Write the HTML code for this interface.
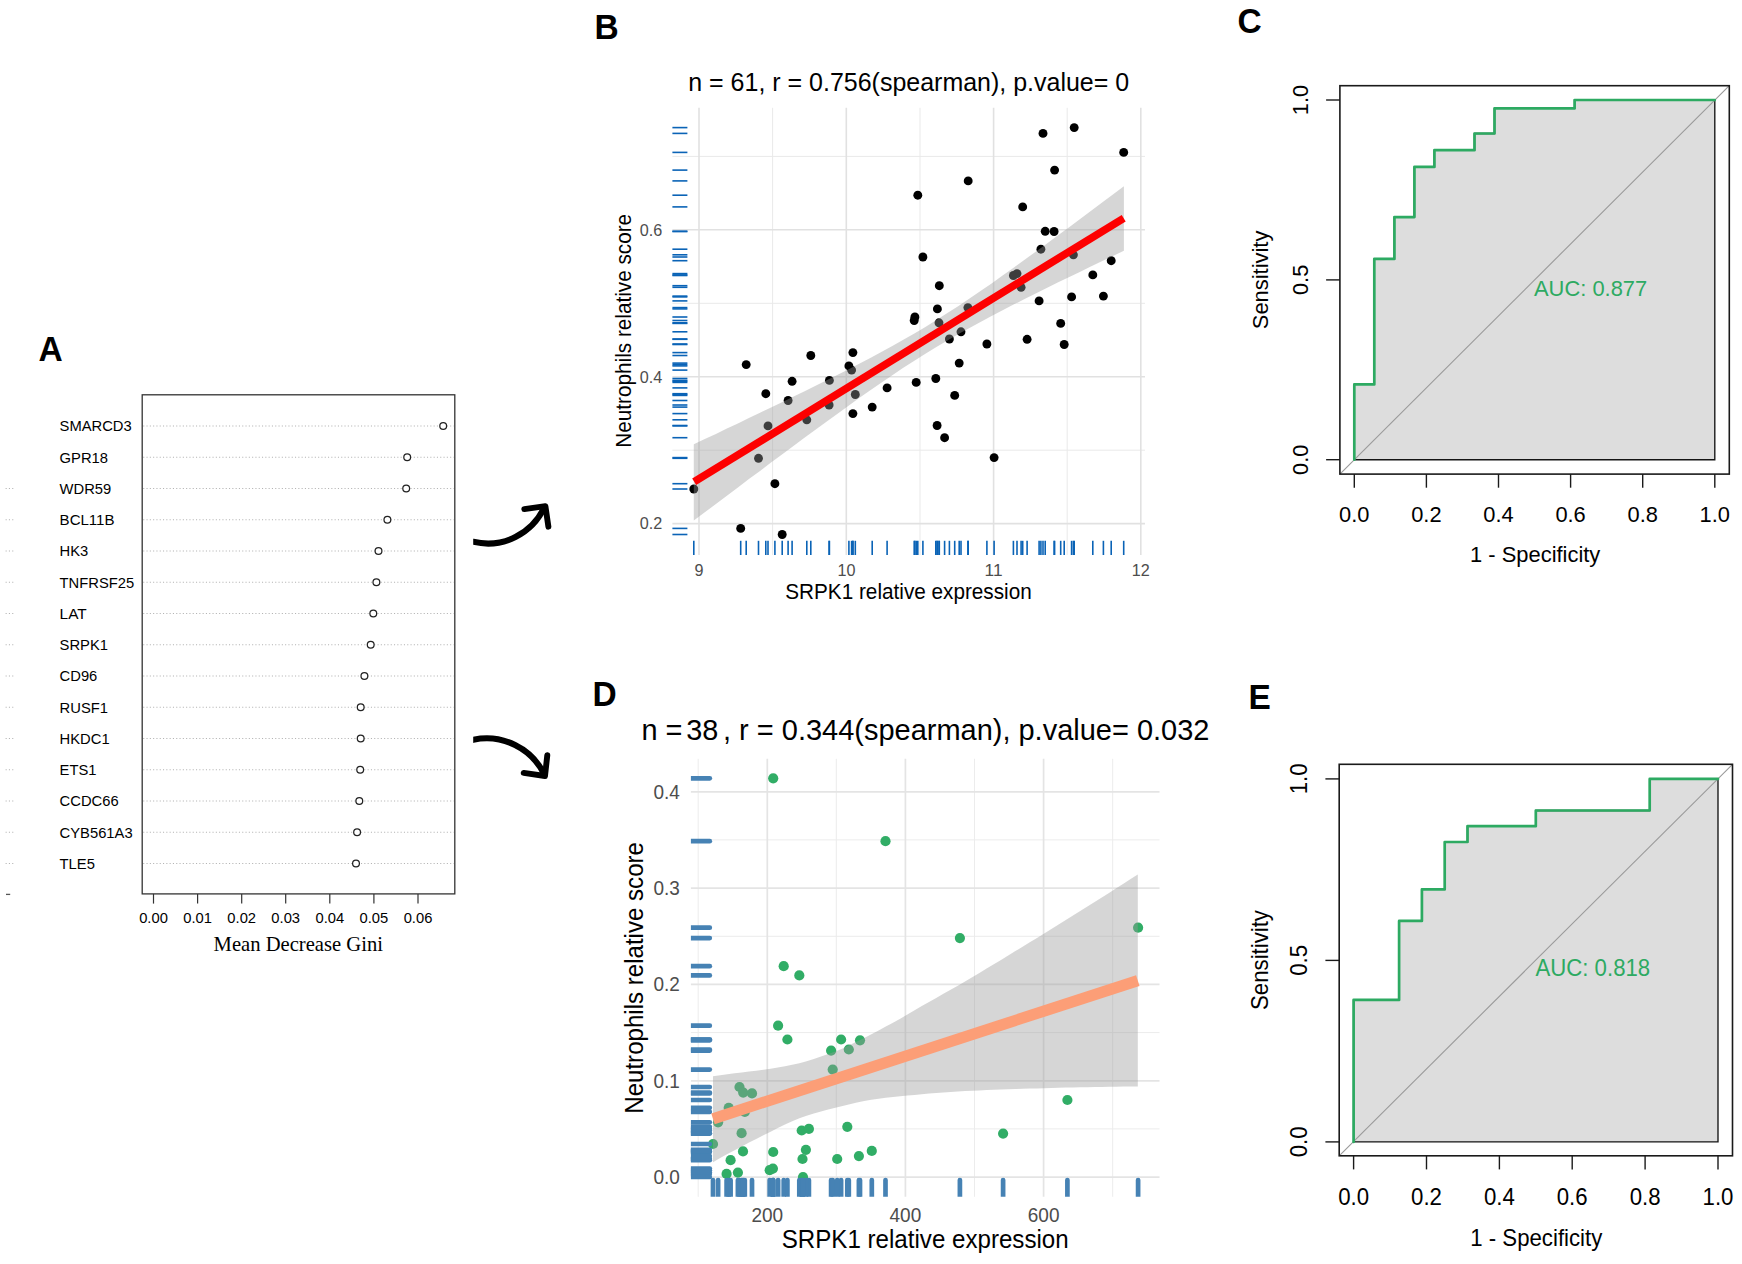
<!DOCTYPE html>
<html lang="en"><head><meta charset="utf-8"><title>Figure</title>
<style>html,body{margin:0;padding:0;background:#fff}svg{display:block}</style></head>
<body>
<svg width="1742" height="1264" viewBox="0 0 1742 1264" font-family="Liberation Sans, Arial, Helvetica, sans-serif">
<rect width="1742" height="1264" fill="#fff"/>
<g id="panelA">
<g stroke="#b4b4b4" stroke-width="1.1" stroke-dasharray="1.1 2.2" fill="none">
<path d="M143.2 426H453.8"/>
<path d="M143.2 457.2H453.8"/>
<path d="M143.2 488.5H453.8"/>
<path d="M5.6 488.5H13.3"/>
<path d="M143.2 519.8H453.8"/>
<path d="M5.6 519.8H13.3"/>
<path d="M143.2 551H453.8"/>
<path d="M5.6 551H13.3"/>
<path d="M143.2 582.2H453.8"/>
<path d="M5.6 582.2H13.3"/>
<path d="M143.2 613.5H453.8"/>
<path d="M5.6 613.5H13.3"/>
<path d="M143.2 644.8H453.8"/>
<path d="M5.6 644.8H13.3"/>
<path d="M143.2 676H453.8"/>
<path d="M5.6 676H13.3"/>
<path d="M143.2 707.2H453.8"/>
<path d="M5.6 707.2H13.3"/>
<path d="M143.2 738.5H453.8"/>
<path d="M5.6 738.5H13.3"/>
<path d="M143.2 769.8H453.8"/>
<path d="M5.6 769.8H13.3"/>
<path d="M143.2 801H453.8"/>
<path d="M5.6 801H13.3"/>
<path d="M143.2 832.2H453.8"/>
<path d="M5.6 832.2H13.3"/>
<path d="M143.2 863.5H453.8"/>
<path d="M5.6 863.5H13.3"/>
</g>
<rect x="142.2" y="394.8" width="312.6" height="499.1" fill="none" stroke="#333" stroke-width="1.3"/>
<path d="M6 894.4H10.2" stroke="#555" stroke-width="1.3"/>
<g fill="#fff" stroke="#222" stroke-width="1.25">
<circle cx="443.2" cy="426" r="3.4"/>
<circle cx="407.2" cy="457.2" r="3.4"/>
<circle cx="406.2" cy="488.5" r="3.4"/>
<circle cx="387.4" cy="519.8" r="3.4"/>
<circle cx="378.5" cy="551" r="3.4"/>
<circle cx="376.4" cy="582.2" r="3.4"/>
<circle cx="373.3" cy="613.5" r="3.4"/>
<circle cx="370.7" cy="644.8" r="3.4"/>
<circle cx="364.4" cy="676" r="3.4"/>
<circle cx="360.7" cy="707.2" r="3.4"/>
<circle cx="360.7" cy="738.5" r="3.4"/>
<circle cx="360.2" cy="769.8" r="3.4"/>
<circle cx="359.3" cy="801" r="3.4"/>
<circle cx="357.1" cy="832.2" r="3.4"/>
<circle cx="356.0" cy="863.5" r="3.4"/>
</g>
<text x="59.6" y="431.2" font-size="15.34" text-anchor="start" fill="#000" textLength="72.1" lengthAdjust="spacingAndGlyphs" xml:space="preserve">SMARCD3</text>
<text x="59.6" y="462.5" font-size="15.34" text-anchor="start" fill="#000" textLength="48.4" lengthAdjust="spacingAndGlyphs" xml:space="preserve">GPR18</text>
<text x="59.6" y="493.8" font-size="15.34" text-anchor="start" fill="#000" textLength="51.6" lengthAdjust="spacingAndGlyphs" xml:space="preserve">WDR59</text>
<text x="59.6" y="525" font-size="15.34" text-anchor="start" fill="#000" textLength="54.9" lengthAdjust="spacingAndGlyphs" xml:space="preserve">BCL11B</text>
<text x="59.6" y="556.2" font-size="15.34" text-anchor="start" fill="#000" textLength="28.7" lengthAdjust="spacingAndGlyphs" xml:space="preserve">HK3</text>
<text x="59.6" y="587.5" font-size="15.34" text-anchor="start" fill="#000" textLength="74.6" lengthAdjust="spacingAndGlyphs" xml:space="preserve">TNFRSF25</text>
<text x="59.6" y="618.8" font-size="15.34" text-anchor="start" fill="#000" textLength="27.1" lengthAdjust="spacingAndGlyphs" xml:space="preserve">LAT</text>
<text x="59.6" y="650" font-size="15.34" text-anchor="start" fill="#000" textLength="48.4" lengthAdjust="spacingAndGlyphs" xml:space="preserve">SRPK1</text>
<text x="59.6" y="681.2" font-size="15.34" text-anchor="start" fill="#000" textLength="37.7" lengthAdjust="spacingAndGlyphs" xml:space="preserve">CD96</text>
<text x="59.6" y="712.5" font-size="15.34" text-anchor="start" fill="#000" textLength="48.4" lengthAdjust="spacingAndGlyphs" xml:space="preserve">RUSF1</text>
<text x="59.6" y="743.8" font-size="15.34" text-anchor="start" fill="#000" textLength="50.0" lengthAdjust="spacingAndGlyphs" xml:space="preserve">HKDC1</text>
<text x="59.6" y="775" font-size="15.34" text-anchor="start" fill="#000" textLength="36.9" lengthAdjust="spacingAndGlyphs" xml:space="preserve">ETS1</text>
<text x="59.6" y="806.2" font-size="15.34" text-anchor="start" fill="#000" textLength="59.0" lengthAdjust="spacingAndGlyphs" xml:space="preserve">CCDC66</text>
<text x="59.6" y="837.5" font-size="15.34" text-anchor="start" fill="#000" textLength="73.0" lengthAdjust="spacingAndGlyphs" xml:space="preserve">CYB561A3</text>
<text x="59.6" y="868.8" font-size="15.34" text-anchor="start" fill="#000" textLength="35.3" lengthAdjust="spacingAndGlyphs" xml:space="preserve">TLE5</text>
<g stroke="#333" stroke-width="1.2">
<path d="M153.5 893.9V903.6"/>
<path d="M197.6 893.9V903.6"/>
<path d="M241.7 893.9V903.6"/>
<path d="M285.7 893.9V903.6"/>
<path d="M329.8 893.9V903.6"/>
<path d="M373.9 893.9V903.6"/>
<path d="M418 893.9V903.6"/>
</g>
<text x="153.5" y="923.4" font-size="15.34" text-anchor="middle" fill="#000" textLength="28.7" lengthAdjust="spacingAndGlyphs" xml:space="preserve">0.00</text>
<text x="197.6" y="923.4" font-size="15.34" text-anchor="middle" fill="#000" textLength="28.7" lengthAdjust="spacingAndGlyphs" xml:space="preserve">0.01</text>
<text x="241.7" y="923.4" font-size="15.34" text-anchor="middle" fill="#000" textLength="28.7" lengthAdjust="spacingAndGlyphs" xml:space="preserve">0.02</text>
<text x="285.7" y="923.4" font-size="15.34" text-anchor="middle" fill="#000" textLength="28.7" lengthAdjust="spacingAndGlyphs" xml:space="preserve">0.03</text>
<text x="329.8" y="923.4" font-size="15.34" text-anchor="middle" fill="#000" textLength="28.7" lengthAdjust="spacingAndGlyphs" xml:space="preserve">0.04</text>
<text x="373.9" y="923.4" font-size="15.34" text-anchor="middle" fill="#000" textLength="28.7" lengthAdjust="spacingAndGlyphs" xml:space="preserve">0.05</text>
<text x="418" y="923.4" font-size="15.34" text-anchor="middle" fill="#000" textLength="28.7" lengthAdjust="spacingAndGlyphs" xml:space="preserve">0.06</text>
<text x="298.3" y="950.8" font-family="Liberation Serif, Times New Roman, serif" font-size="20.6" text-anchor="middle" fill="#000" textLength="169.4" lengthAdjust="spacingAndGlyphs">Mean Decrease Gini</text>
</g>
<g id="arrows" fill="none" stroke="#000" stroke-width="6" stroke-linejoin="round">
<clipPath id="cpArr"><rect x="473.2" y="480" width="90" height="320"/></clipPath>
<g clip-path="url(#cpArr)">
<path d="M470 541.1L473.2 541.8C503 548.9 532.1 533.8 544.8 506.5"/>
<path d="M470 740.5L473.2 739.8C502.5 733.7 531.7 748.1 544.6 775"/>
</g>
<path d="M524.3 509.1L545.4 506.1L548.4 526.7" stroke-linecap="round" stroke-width="5.9"/>
<path d="M523.7 772.9L545 776L547.3 755.1" stroke-linecap="round" stroke-width="5.9"/>
</g>
<g id="panelB">
<g stroke="#e9e9e9" stroke-width="1.0">
<path d="M772.6 107.8V555.0"/>
<path d="M920.0 107.8V555.0"/>
<path d="M1067.2 107.8V555.0"/>
<path d="M672.4 156.4H1145.0"/>
<path d="M672.4 303.3H1145.0"/>
<path d="M672.4 450.2H1145.0"/>
</g><g stroke="#e1e1e1" stroke-width="1.6">
<path d="M699.0 107.8V555.0"/>
<path d="M846.3 107.8V555.0"/>
<path d="M993.6 107.8V555.0"/>
<path d="M1140.8 107.8V555.0"/>
<path d="M672.4 229.8H1145.0"/>
<path d="M672.4 376.7H1145.0"/>
<path d="M672.4 523.6H1145.0"/>
</g>
<g stroke="#0a63b6" stroke-width="1.6">
<path d="M672.4 195.2H687.4"/><path d="M917.8 540.8V555.0"/>
<path d="M672.4 180.9H687.4"/><path d="M968.2 540.8V555.0"/>
<path d="M672.4 133.4H687.4"/><path d="M1043.0 540.8V555.0"/>
<path d="M672.4 127.6H687.4"/><path d="M1074.2 540.8V555.0"/>
<path d="M672.4 152.4H687.4"/><path d="M1123.7 540.8V555.0"/>
<path d="M672.4 170.1H687.4"/><path d="M1054.6 540.8V555.0"/>
<path d="M672.4 206.9H687.4"/><path d="M1022.7 540.8V555.0"/>
<path d="M672.4 231.3H687.4"/><path d="M1045.2 540.8V555.0"/>
<path d="M672.4 231.5H687.4"/><path d="M1054.1 540.8V555.0"/>
<path d="M672.4 249.2H687.4"/><path d="M1040.9 540.8V555.0"/>
<path d="M672.4 254.8H687.4"/><path d="M1073.4 540.8V555.0"/>
<path d="M672.4 260.7H687.4"/><path d="M1111.2 540.8V555.0"/>
<path d="M672.4 257.0H687.4"/><path d="M922.9 540.8V555.0"/>
<path d="M672.4 285.7H687.4"/><path d="M939.3 540.8V555.0"/>
<path d="M672.4 275.5H687.4"/><path d="M1013.4 540.8V555.0"/>
<path d="M672.4 273.6H687.4"/><path d="M1017.0 540.8V555.0"/>
<path d="M672.4 287.3H687.4"/><path d="M1021.1 540.8V555.0"/>
<path d="M672.4 274.9H687.4"/><path d="M1092.8 540.8V555.0"/>
<path d="M672.4 296.9H687.4"/><path d="M1071.6 540.8V555.0"/>
<path d="M672.4 296.1H687.4"/><path d="M1103.4 540.8V555.0"/>
<path d="M672.4 300.9H687.4"/><path d="M1039.1 540.8V555.0"/>
<path d="M672.4 308.9H687.4"/><path d="M937.4 540.8V555.0"/>
<path d="M672.4 307.6H687.4"/><path d="M967.9 540.8V555.0"/>
<path d="M672.4 317.0H687.4"/><path d="M914.9 540.8V555.0"/>
<path d="M672.4 320.5H687.4"/><path d="M914.2 540.8V555.0"/>
<path d="M672.4 322.8H687.4"/><path d="M939.0 540.8V555.0"/>
<path d="M672.4 331.8H687.4"/><path d="M961.0 540.8V555.0"/>
<path d="M672.4 339.0H687.4"/><path d="M949.4 540.8V555.0"/>
<path d="M672.4 323.4H687.4"/><path d="M1060.7 540.8V555.0"/>
<path d="M672.4 344.0H687.4"/><path d="M986.9 540.8V555.0"/>
<path d="M672.4 339.3H687.4"/><path d="M1027.1 540.8V555.0"/>
<path d="M672.4 344.5H687.4"/><path d="M1064.2 540.8V555.0"/>
<path d="M672.4 363.1H687.4"/><path d="M959.2 540.8V555.0"/>
<path d="M672.4 378.5H687.4"/><path d="M935.8 540.8V555.0"/>
<path d="M672.4 382.4H687.4"/><path d="M916.2 540.8V555.0"/>
<path d="M672.4 387.9H687.4"/><path d="M887.1 540.8V555.0"/>
<path d="M672.4 395.4H687.4"/><path d="M954.7 540.8V555.0"/>
<path d="M672.4 425.5H687.4"/><path d="M937.1 540.8V555.0"/>
<path d="M672.4 437.7H687.4"/><path d="M944.6 540.8V555.0"/>
<path d="M672.4 457.6H687.4"/><path d="M994.1 540.8V555.0"/>
<path d="M672.4 364.6H687.4"/><path d="M746.2 540.8V555.0"/>
<path d="M672.4 355.5H687.4"/><path d="M810.8 540.8V555.0"/>
<path d="M672.4 352.6H687.4"/><path d="M852.9 540.8V555.0"/>
<path d="M672.4 365.9H687.4"/><path d="M848.9 540.8V555.0"/>
<path d="M672.4 370.1H687.4"/><path d="M851.6 540.8V555.0"/>
<path d="M672.4 381.3H687.4"/><path d="M792.1 540.8V555.0"/>
<path d="M672.4 380.4H687.4"/><path d="M829.4 540.8V555.0"/>
<path d="M672.4 393.7H687.4"/><path d="M765.8 540.8V555.0"/>
<path d="M672.4 400.5H687.4"/><path d="M788.1 540.8V555.0"/>
<path d="M672.4 394.5H687.4"/><path d="M855.3 540.8V555.0"/>
<path d="M672.4 405.0H687.4"/><path d="M829.1 540.8V555.0"/>
<path d="M672.4 407.1H687.4"/><path d="M872.2 540.8V555.0"/>
<path d="M672.4 413.6H687.4"/><path d="M852.9 540.8V555.0"/>
<path d="M672.4 419.8H687.4"/><path d="M806.8 540.8V555.0"/>
<path d="M672.4 425.9H687.4"/><path d="M768.0 540.8V555.0"/>
<path d="M672.4 458.3H687.4"/><path d="M758.5 540.8V555.0"/>
<path d="M672.4 483.7H687.4"/><path d="M774.9 540.8V555.0"/>
<path d="M672.4 489.0H687.4"/><path d="M693.8 540.8V555.0"/>
<path d="M672.4 528.4H687.4"/><path d="M740.7 540.8V555.0"/>
<path d="M672.4 534.5H687.4"/><path d="M782.2 540.8V555.0"/>
</g>
<g fill="#000">
<circle cx="917.8" cy="195.2" r="4.45"/>
<circle cx="968.2" cy="180.9" r="4.45"/>
<circle cx="1043.0" cy="133.4" r="4.45"/>
<circle cx="1074.2" cy="127.6" r="4.45"/>
<circle cx="1123.7" cy="152.4" r="4.45"/>
<circle cx="1054.6" cy="170.1" r="4.45"/>
<circle cx="1022.7" cy="206.9" r="4.45"/>
<circle cx="1045.2" cy="231.3" r="4.45"/>
<circle cx="1054.1" cy="231.5" r="4.45"/>
<circle cx="1040.9" cy="249.2" r="4.45"/>
<circle cx="1073.4" cy="254.8" r="4.45"/>
<circle cx="1111.2" cy="260.7" r="4.45"/>
<circle cx="922.9" cy="257.0" r="4.45"/>
<circle cx="939.3" cy="285.7" r="4.45"/>
<circle cx="1013.4" cy="275.5" r="4.45"/>
<circle cx="1017.0" cy="273.6" r="4.45"/>
<circle cx="1021.1" cy="287.3" r="4.45"/>
<circle cx="1092.8" cy="274.9" r="4.45"/>
<circle cx="1071.6" cy="296.9" r="4.45"/>
<circle cx="1103.4" cy="296.1" r="4.45"/>
<circle cx="1039.1" cy="300.9" r="4.45"/>
<circle cx="937.4" cy="308.9" r="4.45"/>
<circle cx="967.9" cy="307.6" r="4.45"/>
<circle cx="914.9" cy="317.0" r="4.45"/>
<circle cx="914.2" cy="320.5" r="4.45"/>
<circle cx="939.0" cy="322.8" r="4.45"/>
<circle cx="961.0" cy="331.8" r="4.45"/>
<circle cx="949.4" cy="339.0" r="4.45"/>
<circle cx="1060.7" cy="323.4" r="4.45"/>
<circle cx="986.9" cy="344.0" r="4.45"/>
<circle cx="1027.1" cy="339.3" r="4.45"/>
<circle cx="1064.2" cy="344.5" r="4.45"/>
<circle cx="959.2" cy="363.1" r="4.45"/>
<circle cx="935.8" cy="378.5" r="4.45"/>
<circle cx="916.2" cy="382.4" r="4.45"/>
<circle cx="887.1" cy="387.9" r="4.45"/>
<circle cx="954.7" cy="395.4" r="4.45"/>
<circle cx="937.1" cy="425.5" r="4.45"/>
<circle cx="944.6" cy="437.7" r="4.45"/>
<circle cx="994.1" cy="457.6" r="4.45"/>
<circle cx="746.2" cy="364.6" r="4.45"/>
<circle cx="810.8" cy="355.5" r="4.45"/>
<circle cx="852.9" cy="352.6" r="4.45"/>
<circle cx="848.9" cy="365.9" r="4.45"/>
<circle cx="851.6" cy="370.1" r="4.45"/>
<circle cx="792.1" cy="381.3" r="4.45"/>
<circle cx="829.4" cy="380.4" r="4.45"/>
<circle cx="765.8" cy="393.7" r="4.45"/>
<circle cx="788.1" cy="400.5" r="4.45"/>
<circle cx="855.3" cy="394.5" r="4.45"/>
<circle cx="829.1" cy="405.0" r="4.45"/>
<circle cx="872.2" cy="407.1" r="4.45"/>
<circle cx="852.9" cy="413.6" r="4.45"/>
<circle cx="806.8" cy="419.8" r="4.45"/>
<circle cx="768.0" cy="425.9" r="4.45"/>
<circle cx="758.5" cy="458.3" r="4.45"/>
<circle cx="774.9" cy="483.7" r="4.45"/>
<circle cx="693.8" cy="489.0" r="4.45"/>
<circle cx="740.7" cy="528.4" r="4.45"/>
<circle cx="782.2" cy="534.5" r="4.45"/>
</g>
<path d="M693.8 444.3L704.8 439.1L715.9 433.9L726.9 428.6L737.9 423.4L748.9 418.1L760 412.8L771 407.5L782 402.2L793.1 396.8L804.1 391.4L815.1 386L826.1 380.5L837.2 375L848.2 369.4L859.2 363.7L870.3 358L881.3 352.1L892.3 346L903.3 339.8L914.4 333.5L925.4 326.9L936.4 320.1L947.4 313.1L958.5 305.9L969.5 298.5L980.5 291L991.6 283.4L1002.6 275.6L1013.6 267.7L1024.6 259.7L1035.7 251.7L1046.7 243.7L1057.7 235.5L1068.8 227.4L1079.8 219.2L1090.8 211L1101.8 202.7L1112.9 194.5L1123.9 186.2L1123.9 250.7L1112.9 256L1101.8 261.3L1090.8 266.6L1079.8 271.9L1068.8 277.3L1057.7 282.6L1046.7 288.1L1035.7 293.5L1024.6 299L1013.6 304.6L1002.6 310.3L991.6 316L980.5 321.9L969.5 327.9L958.5 334.1L947.4 340.4L936.4 347L925.4 353.7L914.4 360.7L903.3 367.8L892.3 375.2L881.3 382.7L870.3 390.3L859.2 398.1L848.2 406L837.2 413.9L826.1 421.9L815.1 430L804.1 438.1L793.1 446.2L782 454.4L771 462.6L760 470.9L748.9 479.1L737.9 487.4L726.9 495.7L715.9 504L704.8 512.3L693.8 520.6Z" fill="#999" fill-opacity="0.4"/>
<path d="M694.2 481.8L1123.7 218.2" stroke="#fd0000" stroke-width="7.7"/>
<text x="908.7" y="91.3" font-size="25.98" text-anchor="middle" fill="#000" textLength="440.9" lengthAdjust="spacingAndGlyphs" xml:space="preserve">n = 61, r = 0.756(spearman), p.value= 0</text>
<text x="908.5" y="598.8" font-size="21.55" text-anchor="middle" fill="#000" textLength="246.5" lengthAdjust="spacingAndGlyphs" xml:space="preserve">SRPK1 relative expression</text>
<text transform="translate(631.3 330.8) rotate(-90)" font-size="21.55" text-anchor="middle" fill="#000" textLength="233.8" lengthAdjust="spacingAndGlyphs" xml:space="preserve">Neutrophils relative score</text>
<text x="662.3" y="529.4" font-size="16.85" text-anchor="end" fill="#4d4d4d" textLength="22.5" lengthAdjust="spacingAndGlyphs" xml:space="preserve">0.2</text>
<text x="662.3" y="382.5" font-size="16.85" text-anchor="end" fill="#4d4d4d" textLength="22.5" lengthAdjust="spacingAndGlyphs" xml:space="preserve">0.4</text>
<text x="662.3" y="235.6" font-size="16.85" text-anchor="end" fill="#4d4d4d" textLength="22.5" lengthAdjust="spacingAndGlyphs" xml:space="preserve">0.6</text>
<text x="699.0" y="575.8" font-size="16.85" text-anchor="middle" fill="#4d4d4d" textLength="9.0" lengthAdjust="spacingAndGlyphs" xml:space="preserve">9</text>
<text x="846.6" y="575.8" font-size="16.85" text-anchor="middle" fill="#4d4d4d" textLength="18.0" lengthAdjust="spacingAndGlyphs" xml:space="preserve">10</text>
<text x="993.6" y="575.8" font-size="16.85" text-anchor="middle" fill="#4d4d4d" textLength="18.0" lengthAdjust="spacingAndGlyphs" xml:space="preserve">11</text>
<text x="1140.8" y="575.8" font-size="16.85" text-anchor="middle" fill="#4d4d4d" textLength="18.0" lengthAdjust="spacingAndGlyphs" xml:space="preserve">12</text>
</g>
<g id="panelD">
<g stroke="#ececec" stroke-width="1.0">
<path d="M698.2 758.8V1196.8"/>
<path d="M836.3 758.8V1196.8"/>
<path d="M974.5 758.8V1196.8"/>
<path d="M1112.7 758.8V1196.8"/>
<path d="M690.9 1128.9H1159.5"/>
<path d="M690.9 1032.6H1159.5"/>
<path d="M690.9 936.3H1159.5"/>
<path d="M690.9 839.9H1159.5"/>
</g><g stroke="#e4e4e4" stroke-width="1.7">
<path d="M767.3 758.8V1196.8"/>
<path d="M905.4 758.8V1196.8"/>
<path d="M1043.6 758.8V1196.8"/>
<path d="M690.9 1177.1H1159.5"/>
<path d="M690.9 1080.8H1159.5"/>
<path d="M690.9 984.4H1159.5"/>
<path d="M690.9 888.1H1159.5"/>
<path d="M690.9 791.8H1159.5"/>
</g>
<g fill="#31ad66">
<circle cx="773.2" cy="778.3" r="5.1"/>
<circle cx="885.5" cy="841.2" r="5.1"/>
<circle cx="783.7" cy="966.2" r="5.1"/>
<circle cx="799.3" cy="975.4" r="5.1"/>
<circle cx="959.9" cy="938.1" r="5.1"/>
<circle cx="778.1" cy="1025.7" r="5.1"/>
<circle cx="787.4" cy="1039.5" r="5.1"/>
<circle cx="841.1" cy="1039.5" r="5.1"/>
<circle cx="860.0" cy="1040.3" r="5.1"/>
<circle cx="831.1" cy="1050.6" r="5.1"/>
<circle cx="848.8" cy="1049.5" r="5.1"/>
<circle cx="832.7" cy="1069.6" r="5.1"/>
<circle cx="739.5" cy="1087.0" r="5.1"/>
<circle cx="743.2" cy="1092.6" r="5.1"/>
<circle cx="752.0" cy="1093.4" r="5.1"/>
<circle cx="728.7" cy="1107.8" r="5.1"/>
<circle cx="744.8" cy="1111.9" r="5.1"/>
<circle cx="718.1" cy="1122.3" r="5.1"/>
<circle cx="741.6" cy="1133.2" r="5.1"/>
<circle cx="713.0" cy="1144.0" r="5.1"/>
<circle cx="743.0" cy="1151.4" r="5.1"/>
<circle cx="730.6" cy="1160.2" r="5.1"/>
<circle cx="726.6" cy="1173.9" r="5.1"/>
<circle cx="737.9" cy="1172.6" r="5.1"/>
<circle cx="773.2" cy="1152.0" r="5.1"/>
<circle cx="769.7" cy="1170.2" r="5.1"/>
<circle cx="772.9" cy="1168.6" r="5.1"/>
<circle cx="801.7" cy="1130.5" r="5.1"/>
<circle cx="808.9" cy="1128.9" r="5.1"/>
<circle cx="805.9" cy="1149.8" r="5.1"/>
<circle cx="802.5" cy="1159.0" r="5.1"/>
<circle cx="803.0" cy="1177.0" r="5.1"/>
<circle cx="847.3" cy="1126.8" r="5.1"/>
<circle cx="837.2" cy="1159.0" r="5.1"/>
<circle cx="858.9" cy="1156.1" r="5.1"/>
<circle cx="871.8" cy="1150.9" r="5.1"/>
<circle cx="1067.4" cy="1100.0" r="5.1"/>
<circle cx="1003.1" cy="1133.6" r="5.1"/>
<circle cx="1138.1" cy="927.7" r="5.1"/>
</g>
<clipPath id="cpD"><rect x="690.9" y="758.8" width="468.6" height="438"/></clipPath>
<g stroke="#4682b4" stroke-width="4.7" stroke-linecap="round" clip-path="url(#cpD)">
<path d="M685.9 778.3H709.8"/><path d="M773.2 1180V1201.8"/>
<path d="M685.9 841.2H709.8"/><path d="M885.5 1180V1201.8"/>
<path d="M685.9 966.2H709.8"/><path d="M783.7 1180V1201.8"/>
<path d="M685.9 975.4H709.8"/><path d="M799.3 1180V1201.8"/>
<path d="M685.9 938.1H709.8"/><path d="M959.9 1180V1201.8"/>
<path d="M685.9 1025.7H709.8"/><path d="M778.1 1180V1201.8"/>
<path d="M685.9 1039.5H709.8"/><path d="M787.4 1180V1201.8"/>
<path d="M685.9 1039.5H709.8"/><path d="M841.1 1180V1201.8"/>
<path d="M685.9 1040.3H709.8"/><path d="M860.0 1180V1201.8"/>
<path d="M685.9 1050.6H709.8"/><path d="M831.1 1180V1201.8"/>
<path d="M685.9 1049.5H709.8"/><path d="M848.8 1180V1201.8"/>
<path d="M685.9 1069.6H709.8"/><path d="M832.7 1180V1201.8"/>
<path d="M685.9 1087.0H709.8"/><path d="M739.5 1180V1201.8"/>
<path d="M685.9 1092.6H709.8"/><path d="M743.2 1180V1201.8"/>
<path d="M685.9 1093.4H709.8"/><path d="M752.0 1180V1201.8"/>
<path d="M685.9 1107.8H709.8"/><path d="M728.7 1180V1201.8"/>
<path d="M685.9 1111.9H709.8"/><path d="M744.8 1180V1201.8"/>
<path d="M685.9 1122.3H709.8"/><path d="M718.1 1180V1201.8"/>
<path d="M685.9 1133.2H709.8"/><path d="M741.6 1180V1201.8"/>
<path d="M685.9 1144.0H709.8"/><path d="M713.0 1180V1201.8"/>
<path d="M685.9 1151.4H709.8"/><path d="M743.0 1180V1201.8"/>
<path d="M685.9 1160.2H709.8"/><path d="M730.6 1180V1201.8"/>
<path d="M685.9 1173.9H709.8"/><path d="M726.6 1180V1201.8"/>
<path d="M685.9 1172.6H709.8"/><path d="M737.9 1180V1201.8"/>
<path d="M685.9 1152.0H709.8"/><path d="M773.2 1180V1201.8"/>
<path d="M685.9 1170.2H709.8"/><path d="M769.7 1180V1201.8"/>
<path d="M685.9 1168.6H709.8"/><path d="M772.9 1180V1201.8"/>
<path d="M685.9 1130.5H709.8"/><path d="M801.7 1180V1201.8"/>
<path d="M685.9 1128.9H709.8"/><path d="M808.9 1180V1201.8"/>
<path d="M685.9 1149.8H709.8"/><path d="M805.9 1180V1201.8"/>
<path d="M685.9 1159.0H709.8"/><path d="M802.5 1180V1201.8"/>
<path d="M685.9 1177.0H709.8"/><path d="M803.0 1180V1201.8"/>
<path d="M685.9 1126.8H709.8"/><path d="M847.3 1180V1201.8"/>
<path d="M685.9 1159.0H709.8"/><path d="M837.2 1180V1201.8"/>
<path d="M685.9 1156.1H709.8"/><path d="M858.9 1180V1201.8"/>
<path d="M685.9 1150.9H709.8"/><path d="M871.8 1180V1201.8"/>
<path d="M685.9 1100.0H709.8"/><path d="M1067.4 1180V1201.8"/>
<path d="M685.9 1133.6H709.8"/><path d="M1003.1 1180V1201.8"/>
<path d="M685.9 927.7H709.8"/><path d="M1138.1 1180V1201.8"/>
</g>
<path d="M713 1076.2L720.2 1075.2L727.4 1074.3L734.6 1073.3L741.8 1072.4L749 1071.5L756.2 1070.7L763.4 1069.8L770.6 1068.7L777.8 1067.6L785 1066.2L792.2 1064.8L799.4 1063.2L806.6 1061.3L813.8 1059.1L821 1056.6L828.2 1054.1L835.4 1051.4L842.6 1048.4L849.8 1045L857 1041.5L864.2 1037.9L871.4 1034.2L878.6 1030.5L885.8 1026.6L893 1022.7L900.2 1018.7L907.4 1014.6L914.6 1010.3L921.8 1006.1L929 1001.9L936.2 997.9L943.4 993.8L950.6 989.8L957.8 985.7L965 981.5L972.2 977.2L979.4 972.9L986.6 968.6L993.8 964.2L1001 959.9L1008.2 955.5L1015.4 951.1L1022.6 946.7L1029.8 942.3L1037 937.9L1044.2 933.5L1051.4 929L1058.6 924.5L1065.8 920.1L1073 915.6L1080.2 911.1L1087.4 906.5L1094.6 902L1101.8 897.5L1109 892.9L1116.2 888.3L1123.4 883.7L1130.6 879.1L1137.8 874.5L1137.8 1086.4L1130.6 1086.5L1123.4 1086.6L1116.2 1086.7L1109 1086.8L1101.8 1086.9L1094.6 1087L1087.4 1087.2L1080.2 1087.3L1073 1087.5L1065.8 1087.6L1058.6 1087.8L1051.4 1088L1044.2 1088.2L1037 1088.4L1029.8 1088.6L1022.6 1088.8L1015.4 1089L1008.2 1089.3L1001 1089.5L993.8 1089.8L986.6 1090.1L979.4 1090.4L972.2 1090.8L965 1091.1L957.8 1091.5L950.6 1092L943.4 1092.5L936.2 1093L929 1093.6L921.8 1094.2L914.6 1094.9L907.4 1095.6L900.2 1096.3L893 1097.1L885.8 1097.8L878.6 1098.7L871.4 1099.7L864.2 1101L857 1102.5L849.8 1104.2L842.6 1105.9L835.4 1107.7L828.2 1109.5L821 1111.4L813.8 1113.5L806.6 1115.7L799.4 1118.2L792.2 1121.2L785 1124.6L777.8 1128.1L770.6 1131.7L763.4 1135.3L756.2 1138.9L749 1142.6L741.8 1146.4L734.6 1150.2L727.4 1154.1L720.2 1158.1L713 1162.2Z" fill="#999" fill-opacity="0.4"/>
<path d="M713 1118.8L1137.8 980.6" stroke="#fc9e77" stroke-width="11.2"/>
<text x="641.4" y="739.7" font-size="30.06" text-anchor="start" fill="#000" textLength="41.0" lengthAdjust="spacingAndGlyphs" xml:space="preserve">n =</text>
<text x="686.3" y="739.7" font-size="30.06" text-anchor="start" fill="#000" textLength="32.1" lengthAdjust="spacingAndGlyphs" xml:space="preserve">38</text>
<text x="723.0" y="739.7" font-size="30.13" text-anchor="start" fill="#000" textLength="486.4" lengthAdjust="spacingAndGlyphs" xml:space="preserve">, r = 0.344(spearman), p.value= 0.032</text>
<text x="925.2" y="1248" font-size="25.08" text-anchor="middle" fill="#000" textLength="286.9" lengthAdjust="spacingAndGlyphs" xml:space="preserve">SRPK1 relative expression</text>
<text transform="translate(643 977.9) rotate(-90)" font-size="25.04" text-anchor="middle" fill="#000" textLength="271.7" lengthAdjust="spacingAndGlyphs" xml:space="preserve">Neutrophils relative score</text>
<text x="679.8" y="1183.8" font-size="19.76" text-anchor="end" fill="#4d4d4d" textLength="26.4" lengthAdjust="spacingAndGlyphs" xml:space="preserve">0.0</text>
<text x="679.8" y="1087.5" font-size="19.76" text-anchor="end" fill="#4d4d4d" textLength="26.4" lengthAdjust="spacingAndGlyphs" xml:space="preserve">0.1</text>
<text x="679.8" y="991.1" font-size="19.76" text-anchor="end" fill="#4d4d4d" textLength="26.4" lengthAdjust="spacingAndGlyphs" xml:space="preserve">0.2</text>
<text x="679.8" y="894.8" font-size="19.76" text-anchor="end" fill="#4d4d4d" textLength="26.4" lengthAdjust="spacingAndGlyphs" xml:space="preserve">0.3</text>
<text x="679.8" y="798.5" font-size="19.76" text-anchor="end" fill="#4d4d4d" textLength="26.4" lengthAdjust="spacingAndGlyphs" xml:space="preserve">0.4</text>
<text x="767.3" y="1221.5" font-size="19.76" text-anchor="middle" fill="#4d4d4d" textLength="31.7" lengthAdjust="spacingAndGlyphs" xml:space="preserve">200</text>
<text x="905.4" y="1221.5" font-size="19.76" text-anchor="middle" fill="#4d4d4d" textLength="31.7" lengthAdjust="spacingAndGlyphs" xml:space="preserve">400</text>
<text x="1043.6" y="1221.5" font-size="19.76" text-anchor="middle" fill="#4d4d4d" textLength="31.7" lengthAdjust="spacingAndGlyphs" xml:space="preserve">600</text>
</g>
<g id="panelC">
<path d="M1354.3 459.7L1354.3 384.4L1374.3 384.4L1374.3 258.9L1394.4 258.9L1394.4 217.1L1414.4 217.1L1414.4 166.9L1434.4 166.9L1434.4 150.2L1474.5 150.2L1474.5 133.5L1494.5 133.5L1494.5 108.4L1574.6 108.4L1574.6 100L1714.8 100L1714.8 459.7L1354.3 459.7Z" fill="#dddddd" stroke="#141414" stroke-width="1.35" stroke-linejoin="miter"/>
<path d="M1339.9 474.1L1729.3 85.7" stroke="#9a9a9a" stroke-width="1.1"/>
<path d="M1354.3 459.7L1354.3 384.4L1374.3 384.4L1374.3 258.9L1394.4 258.9L1394.4 217.1L1414.4 217.1L1414.4 166.9L1434.4 166.9L1434.4 150.2L1474.5 150.2L1474.5 133.5L1494.5 133.5L1494.5 108.4L1574.6 108.4L1574.6 100L1714.8 100" fill="none" stroke="#2daa62" stroke-width="2.7" stroke-linejoin="round" stroke-linecap="round"/>
<rect x="1339.9" y="85.7" width="389.4" height="388.4" fill="none" stroke="#1a1a1a" stroke-width="1.6"/>
<g stroke="#1a1a1a" stroke-width="1.4">
<path d="M1354.3 474.1v13.6"/>
<path d="M1426.4 474.1v13.6"/>
<path d="M1498.5 474.1v13.6"/>
<path d="M1570.6 474.1v13.6"/>
<path d="M1642.7 474.1v13.6"/>
<path d="M1714.8 474.1v13.6"/>
<path d="M1339.9 459.7h-13.8"/>
<path d="M1339.9 279.9h-13.8"/>
<path d="M1339.9 100h-13.8"/>
</g>
<text x="1354.3" y="522.3" font-size="22.78" text-anchor="middle" fill="#000" textLength="30.4" lengthAdjust="spacingAndGlyphs" xml:space="preserve">0.0</text>
<text x="1426.4" y="522.3" font-size="22.78" text-anchor="middle" fill="#000" textLength="30.4" lengthAdjust="spacingAndGlyphs" xml:space="preserve">0.2</text>
<text x="1498.5" y="522.3" font-size="22.78" text-anchor="middle" fill="#000" textLength="30.4" lengthAdjust="spacingAndGlyphs" xml:space="preserve">0.4</text>
<text x="1570.6" y="522.3" font-size="22.78" text-anchor="middle" fill="#000" textLength="30.4" lengthAdjust="spacingAndGlyphs" xml:space="preserve">0.6</text>
<text x="1642.7" y="522.3" font-size="22.78" text-anchor="middle" fill="#000" textLength="30.4" lengthAdjust="spacingAndGlyphs" xml:space="preserve">0.8</text>
<text x="1714.8" y="522.3" font-size="22.78" text-anchor="middle" fill="#000" textLength="30.4" lengthAdjust="spacingAndGlyphs" xml:space="preserve">1.0</text>
<text transform="translate(1308.3 459.7) rotate(-90)" font-size="22.78" text-anchor="middle" fill="#000" textLength="30.4" lengthAdjust="spacingAndGlyphs" xml:space="preserve">0.0</text>
<text transform="translate(1308.3 279.9) rotate(-90)" font-size="22.78" text-anchor="middle" fill="#000" textLength="30.4" lengthAdjust="spacingAndGlyphs" xml:space="preserve">0.5</text>
<text transform="translate(1308.3 100) rotate(-90)" font-size="22.78" text-anchor="middle" fill="#000" textLength="30.4" lengthAdjust="spacingAndGlyphs" xml:space="preserve">1.0</text>
<text x="1535.2" y="561.5" font-size="22.78" text-anchor="middle" fill="#000" textLength="130.2" lengthAdjust="spacingAndGlyphs" xml:space="preserve">1 - Specificity</text>
<text transform="translate(1267.7 279.9) rotate(-90)" font-size="22.78" text-anchor="middle" fill="#000" textLength="98.6" lengthAdjust="spacingAndGlyphs" xml:space="preserve">Sensitivity</text>
<text x="1534.0" y="296.1" font-size="22.78" text-anchor="start" fill="#2daa62" textLength="113.2" lengthAdjust="spacingAndGlyphs" xml:space="preserve">AUC: 0.877</text>
</g>
<g id="panelE">
<path d="M1353.6 1141.9L1353.6 999.9L1399.1 999.9L1399.1 920.9L1421.9 920.9L1421.9 889.4L1444.7 889.4L1444.7 842L1467.5 842L1467.5 826.2L1535.8 826.2L1535.8 810.5L1649.7 810.5L1649.7 778.9L1718 778.9L1718 1141.9L1353.6 1141.9Z" fill="#dddddd" stroke="#141414" stroke-width="1.35" stroke-linejoin="miter"/>
<path d="M1339.2 1155.8L1732.5 764.3" stroke="#9a9a9a" stroke-width="1.1"/>
<path d="M1353.6 1141.9L1353.6 999.9L1399.1 999.9L1399.1 920.9L1421.9 920.9L1421.9 889.4L1444.7 889.4L1444.7 842L1467.5 842L1467.5 826.2L1535.8 826.2L1535.8 810.5L1649.7 810.5L1649.7 778.9L1718 778.9" fill="none" stroke="#2daa62" stroke-width="2.7" stroke-linejoin="round" stroke-linecap="round"/>
<rect x="1339.2" y="764.3" width="393.3" height="391.5" fill="none" stroke="#1a1a1a" stroke-width="1.6"/>
<g stroke="#1a1a1a" stroke-width="1.4">
<path d="M1353.6 1155.8v13.6"/>
<path d="M1426.5 1155.8v13.6"/>
<path d="M1499.4 1155.8v13.6"/>
<path d="M1572.2 1155.8v13.6"/>
<path d="M1645.1 1155.8v13.6"/>
<path d="M1718 1155.8v13.6"/>
<path d="M1339.2 1141.9h-13.8"/>
<path d="M1339.2 960.4h-13.8"/>
<path d="M1339.2 778.9h-13.8"/>
</g>
<text x="1353.6" y="1205.0" font-size="23.09" text-anchor="middle" fill="#000" textLength="30.9" lengthAdjust="spacingAndGlyphs" xml:space="preserve">0.0</text>
<text x="1426.5" y="1205.0" font-size="23.09" text-anchor="middle" fill="#000" textLength="30.9" lengthAdjust="spacingAndGlyphs" xml:space="preserve">0.2</text>
<text x="1499.4" y="1205.0" font-size="23.09" text-anchor="middle" fill="#000" textLength="30.9" lengthAdjust="spacingAndGlyphs" xml:space="preserve">0.4</text>
<text x="1572.2" y="1205.0" font-size="23.09" text-anchor="middle" fill="#000" textLength="30.9" lengthAdjust="spacingAndGlyphs" xml:space="preserve">0.6</text>
<text x="1645.1" y="1205.0" font-size="23.09" text-anchor="middle" fill="#000" textLength="30.9" lengthAdjust="spacingAndGlyphs" xml:space="preserve">0.8</text>
<text x="1718" y="1205.0" font-size="23.09" text-anchor="middle" fill="#000" textLength="30.9" lengthAdjust="spacingAndGlyphs" xml:space="preserve">1.0</text>
<text transform="translate(1306.9 1141.9) rotate(-90)" font-size="23.09" text-anchor="middle" fill="#000" textLength="30.9" lengthAdjust="spacingAndGlyphs" xml:space="preserve">0.0</text>
<text transform="translate(1306.9 960.4) rotate(-90)" font-size="23.09" text-anchor="middle" fill="#000" textLength="30.9" lengthAdjust="spacingAndGlyphs" xml:space="preserve">0.5</text>
<text transform="translate(1306.9 778.9) rotate(-90)" font-size="23.09" text-anchor="middle" fill="#000" textLength="30.9" lengthAdjust="spacingAndGlyphs" xml:space="preserve">1.0</text>
<text x="1536.3" y="1246.2" font-size="23.09" text-anchor="middle" fill="#000" textLength="132.0" lengthAdjust="spacingAndGlyphs" xml:space="preserve">1 - Specificity</text>
<text transform="translate(1268.0 960) rotate(-90)" font-size="23.09" text-anchor="middle" fill="#000" textLength="99.9" lengthAdjust="spacingAndGlyphs" xml:space="preserve">Sensitivity</text>
<text x="1535.4" y="976.2" font-size="23.09" text-anchor="start" fill="#2daa62" textLength="114.8" lengthAdjust="spacingAndGlyphs" xml:space="preserve">AUC: 0.818</text>
</g>
<text x="38.6" y="360.9" font-size="34.84" font-weight="bold" text-anchor="start" fill="#000" textLength="24.2" lengthAdjust="spacingAndGlyphs" xml:space="preserve">A</text>
<text x="594.4" y="38.9" font-size="34.84" font-weight="bold" text-anchor="start" fill="#000" textLength="24.2" lengthAdjust="spacingAndGlyphs" xml:space="preserve">B</text>
<text x="1237.5" y="32.8" font-size="34.84" font-weight="bold" text-anchor="start" fill="#000" textLength="24.2" lengthAdjust="spacingAndGlyphs" xml:space="preserve">C</text>
<text x="592.4" y="705.9" font-size="34.84" font-weight="bold" text-anchor="start" fill="#000" textLength="24.2" lengthAdjust="spacingAndGlyphs" xml:space="preserve">D</text>
<text x="1248.5" y="709.4" font-size="34.84" font-weight="bold" text-anchor="start" fill="#000" textLength="22.3" lengthAdjust="spacingAndGlyphs" xml:space="preserve">E</text>
</svg>
</body></html>
